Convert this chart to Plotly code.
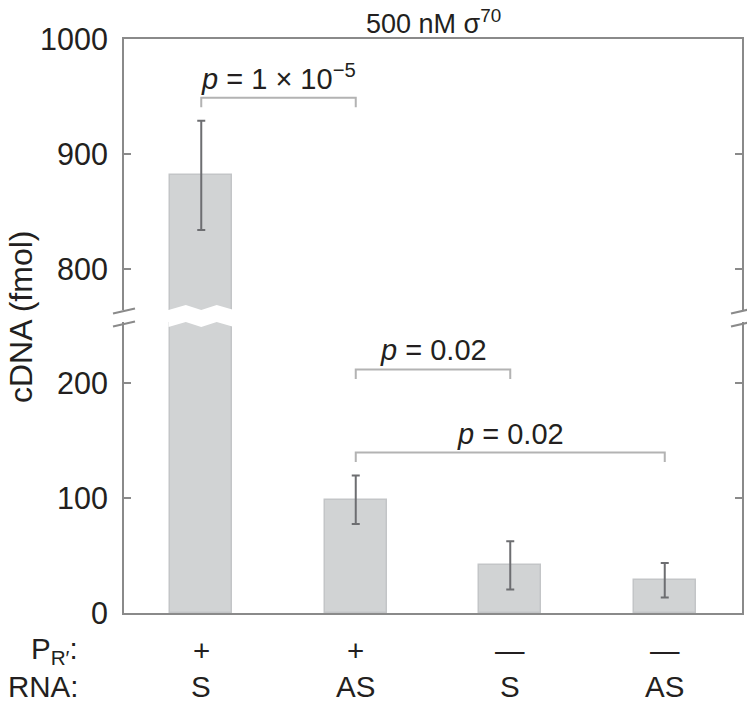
import plotly.graph_objects as go

# data
cats = [0, 1, 2, 3]
pr_labels = ["+", "+", "\u2014", "\u2014"]
rna_labels = ["S", "AS", "S", "AS"]
cdna = [881.5, 98.5, 41.5, 28.5]
cdna_err = [47.5, 21.0, 21.0, 15.0]

# significance brackets: (left bar, right bar, bracket height, label)
comp_left = [0, 1, 1]
comp_right = [1, 2, 3]
comp_y = [949, 211.8, 139.5]
comp_text = ["<i>p</i> = 1 \u00d7 10<sup>\u22125</sup>", "<i>p</i> = 0.02", "<i>p</i> = 0.02"]

upper_ticks = [800, 900, 1000]
lower_ticks = [0, 100, 200]

# layout in screen pixels (page body has an 8px margin)
W, H = 755, 701
OFF = 8
L, R, T, B = 124, 742, 39, 613
UP_BOT = 310   # bottom of the upper panel
LO_TOP = 322   # top of the lower panel
PXU = 1.15     # pixels per fmol


def fx(px):
    return (px - L) / (R - L)


def fy(py):
    return (B - py) / (B - T)


BAR_W = 0.4
FONT = "Liberation Sans, Arial, sans-serif"
TXT = "#231f20"
AX = "#8a8a8a"

up_range = [1000 - (UP_BOT - T) / PXU, 1000]
lo_range = [0, (B - LO_TOP) / PXU]

fig = go.Figure()

bar_style = dict(marker=dict(color="#d1d3d4", line=dict(color="#c3c5c7", width=1.5)),
                 width=BAR_W, showlegend=False,
                 error_y=dict(type="data", array=cdna_err, color="#6d6e71", thickness=2, width=4))
fig.add_trace(go.Bar(x=cats, y=cdna, xaxis="x", yaxis="y", **bar_style))
fig.add_trace(go.Bar(x=cats, y=cdna, xaxis="x2", yaxis="y2", **bar_style))

# brackets
for a, b, yv, txt in zip(comp_left, comp_right, comp_y, comp_text):
    upper = yv > up_range[0]
    leg = 9.5 / PXU
    fig.add_trace(go.Scatter(x=[a, a, b, b], y=[yv - leg, yv, yv, yv - leg], mode="lines",
                             line=dict(color="#b3b3b3", width=2), showlegend=False,
                             xaxis="x2" if upper else "x", yaxis="y2" if upper else "y"))
    fig.add_annotation(x=(a + b) / 2, y=yv, xref="x2" if upper else "x",
                       yref="y2" if upper else "y", text=txt, showarrow=False,
                       yanchor="bottom", yshift=1, font=dict(size=29, color=TXT, family=FONT))

axis_common = dict(showline=True, linecolor=AX, linewidth=2, showgrid=False, zeroline=False,
                   ticks="inside", ticklen=7, tickwidth=2, tickcolor=AX, mirror="ticks",
                   tickfont=dict(size=30.5, color=TXT, family=FONT), ticklabelstandoff=8)

fig.update_layout(
    width=W - OFF, height=H - OFF,
    margin=dict(l=L - OFF, r=W - R, t=T - OFF, b=H - B),
    paper_bgcolor="white", plot_bgcolor="white",
    bargap=0,
    xaxis=dict(domain=[0, 1], range=[-0.5, 3.5], anchor="y", showline=True, linecolor=AX,
               linewidth=2, showgrid=False, zeroline=False, showticklabels=False, ticks=""),
    xaxis2=dict(domain=[0, 1], range=[-0.5, 3.5], anchor="y2", matches="x", side="top",
                showline=True, linecolor=AX, linewidth=2, showgrid=False, zeroline=False,
                showticklabels=False, ticks=""),
    yaxis=dict(domain=[0, fy(LO_TOP)], range=lo_range, tickvals=lower_ticks, **axis_common),
    yaxis2=dict(domain=[fy(UP_BOT), 1], range=up_range, tickvals=upper_ticks, **axis_common),
)

# zigzag cut on the broken bar
for i, v in zip(cats, cdna):
    if v <= lo_range[1]:
        continue
    hw = BAR_W / 2 + 0.012
    d_up = 5 / (UP_BOT - T)
    d_lo = 5 / (B - LO_TOP)
    fig.add_shape(type="path", xref="x2", yref="y2 domain", fillcolor="white", line=dict(width=0),
                  path=(f"M {i - hw},-0.02 L {i - hw},0 L {i - 0.1},{d_up} L {i},0 "
                        f"L {i + 0.1},{d_up} L {i + hw},0 L {i + hw},-0.02 Z"))
    fig.add_shape(type="path", xref="x", yref="y domain", fillcolor="white", line=dict(width=0),
                  path=(f"M {i - hw},1.02 L {i - hw},{1 - d_lo} L {i - 0.1},1 L {i},{1 - d_lo} "
                        f"L {i + 0.1},1 L {i + hw},{1 - d_lo} L {i + hw},1.02 Z"))

# axis break marks
for xp in [L, R]:
    for yp in [UP_BOT + 1, LO_TOP + 2]:
        fig.add_shape(type="line", xref="paper", yref="paper",
                      x0=fx(xp - 11), y0=fy(yp + 2.5), x1=fx(xp + 11), y1=fy(yp - 2.5),
                      line=dict(color=AX, width=2))

# category labels
for i, p, r in zip(cats, pr_labels, rna_labels):
    fig.add_annotation(x=i, xref="x", y=fy(650), yref="paper", text=p, showarrow=False,
                       yanchor="middle", font=dict(size=29.5, color=TXT, family=FONT))
    fig.add_annotation(x=i, xref="x", y=fy(686), yref="paper", text=r, showarrow=False,
                       yanchor="middle", font=dict(size=29.5, color=TXT, family=FONT))

fig.add_annotation(x=fx(80), y=fy(650), xref="paper", yref="paper", text="P<sub>R\u2032</sub>:",
                   showarrow=False, xanchor="right", yanchor="middle",
                   font=dict(size=29.5, color=TXT, family=FONT))
fig.add_annotation(x=fx(80), y=fy(686), xref="paper", yref="paper", text="RNA:",
                   showarrow=False, xanchor="right", yanchor="middle",
                   font=dict(size=29.5, color=TXT, family=FONT))

# y title and panel title
fig.add_annotation(x=fx(21), y=fy(317), xref="paper", yref="paper", text="cDNA (fmol)",
                   textangle=-90, showarrow=False, xanchor="center", yanchor="middle",
                   font=dict(size=32, color=TXT, family=FONT))
fig.add_annotation(x=0.5, y=fy(22), xref="paper", yref="paper", text="500 nM \u03c3<sup>70</sup>",
                   showarrow=False, yanchor="middle", font=dict(size=27, color=TXT, family=FONT))

fig.write_html("out.html")
